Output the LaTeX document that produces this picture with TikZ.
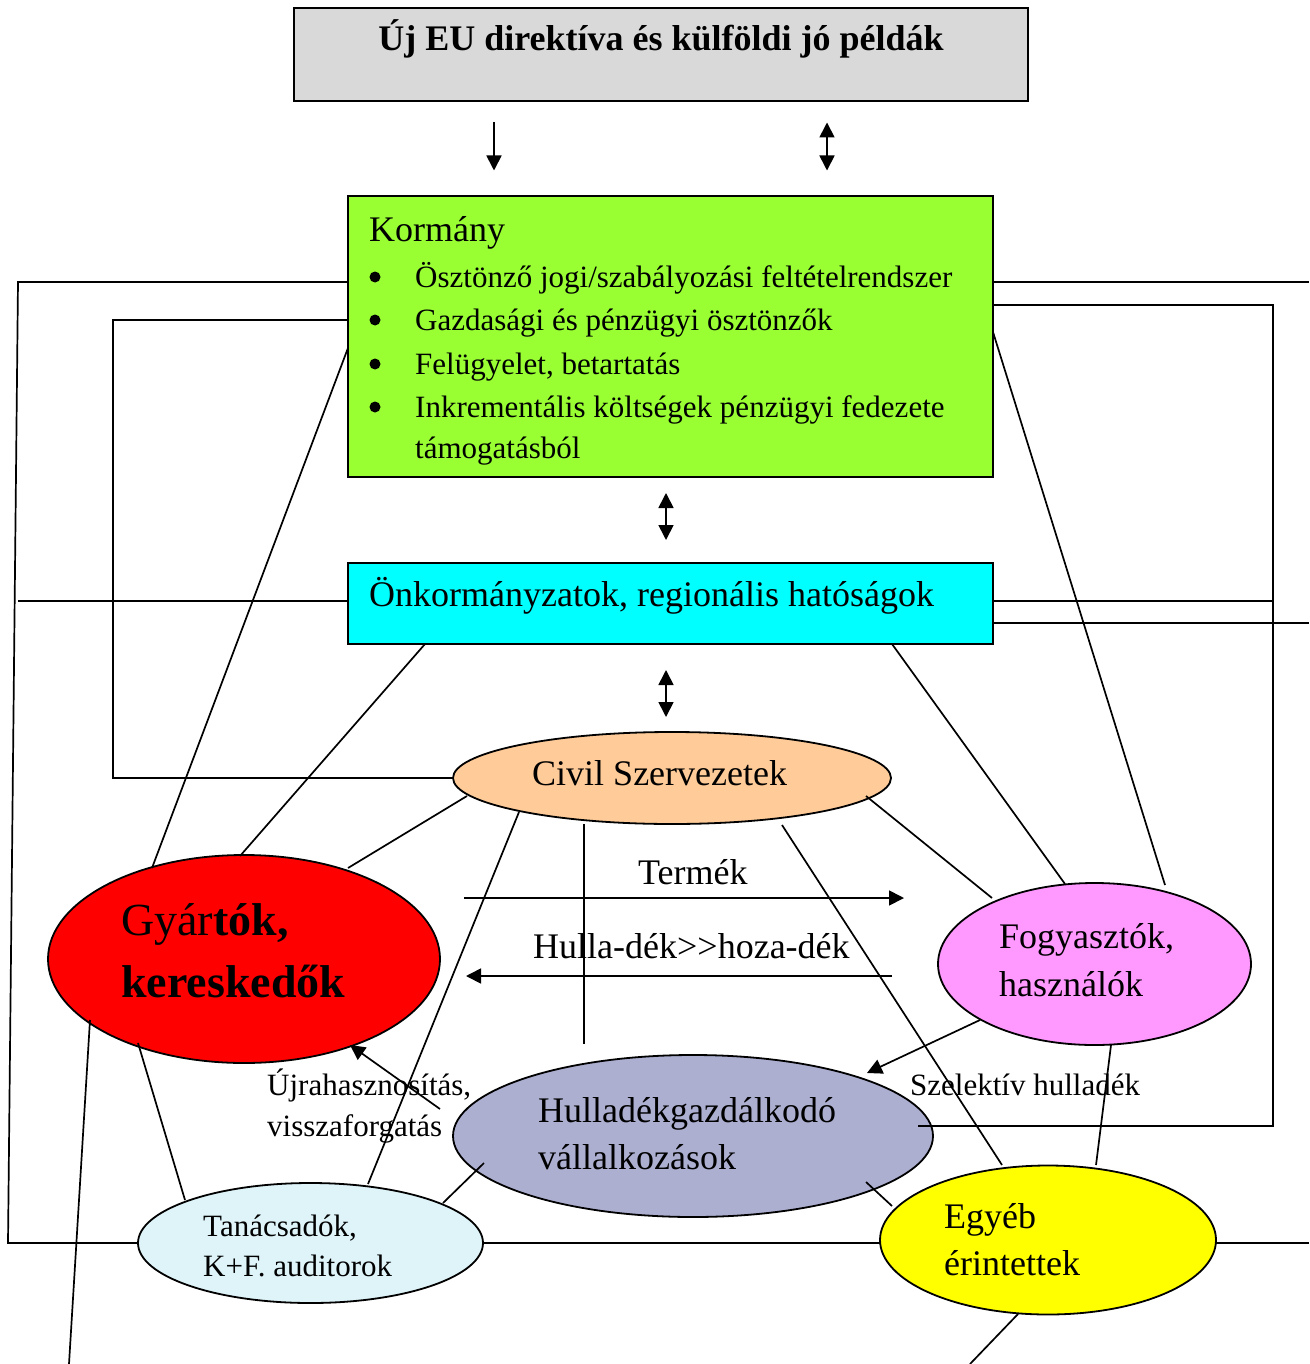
\documentclass[tikz,border=0pt]{standalone}
\usepackage{fontspec}
\setmainfont{Liberation Serif}
\usetikzlibrary{shapes.geometric,arrows.meta,calc}
\definecolor{cgray}{RGB}{217,217,217}
\definecolor{cgreen}{RGB}{153,255,51}
\definecolor{ccyan}{RGB}{0,255,255}
\definecolor{corange}{RGB}{255,204,153}
\definecolor{cred}{RGB}{255,0,0}
\definecolor{cpink}{RGB}{255,153,255}
\definecolor{clav}{RGB}{172,175,208}
\definecolor{clight}{RGB}{222,244,249}
\definecolor{cyel}{RGB}{255,255,0}
\newcommand\fsz[1]{\fontsize{#1pt}{#1pt}\selectfont}
\begin{document}
\begin{tikzpicture}[x=1pt,y=-1pt,
  ln/.style={line width=1.7pt},
  arr/.style={ln,-{Triangle[length=15pt,width=15pt]}},
  darr/.style={ln,{Triangle[length=15pt,width=15pt]}-{Triangle[length=15pt,width=15pt]}},
  box/.style={draw,line width=1.8pt,inner sep=0pt,outer sep=0pt},
  ell/.style={draw,ellipse,line width=1.8pt,inner sep=0pt,outer sep=0pt},
  tbig/.style={anchor=base west,inner sep=0pt,font=\fsz{36}},
  tsm/.style={anchor=base west,inner sep=0pt,font=\fsz{31}},
  bul/.style={circle,fill=black,inner sep=0pt,minimum size=11pt}]
\useasboundingbox (0,0) rectangle (1309,1364);
\fill[white] (0,0) rectangle (1309,1364);

% boxes
\node[box,fill=cgray,minimum width=734pt,minimum height=93pt] (eu) at (661,54.5) {};
\node[box,fill=cgreen,minimum width=645pt,minimum height=281pt] (kor) at (670.5,336.5) {};
\node[box,fill=ccyan,minimum width=645pt,minimum height=81pt] (onk) at (670.5,603.5) {};

% ellipses
\node[ell,fill=corange,minimum width=438pt,minimum height=92pt] (civ) at (672,778) {};
\node[ell,fill=cred,minimum width=392pt,minimum height=208pt] (gyr) at (244,959) {};
\node[ell,fill=cpink,minimum width=313pt,minimum height=162pt] (fog) at (1094.5,964) {};
\node[ell,fill=clav,minimum width=480pt,minimum height=162pt] (hul) at (693,1136) {};
\node[ell,fill=clight,minimum width=345pt,minimum height=120pt] (tan) at (310.5,1243) {};
\node[ell,fill=cyel,minimum width=336pt,minimum height=149pt] (egy) at (1048,1240) {};

% named coordinates
\coordinate (LL1) at (18,282);
\coordinate (LL2) at (8,1243);
\coordinate (LM) at (18,601);
\coordinate (IL1) at (113,320);
\coordinate (IL2) at (113,778);
\coordinate (RR1) at (1309,282);
\coordinate (RR2) at (1309,623);
\coordinate (RR3) at (1309,1243);
\coordinate (IR1) at (1273,305);
\coordinate (IR2) at (1273,1126);
\coordinate (IR3) at (1273,601);
\coordinate (V1) at (584,1044);
\coordinate (B1) at (69,1364);
\coordinate (B2) at (970,1364);
\coordinate (TA) at (464,898);
\coordinate (TB) at (904,898);
\coordinate (HA) at (892,976);
\coordinate (HB) at (466,976);
\coordinate (A1a) at (494,122);
\coordinate (A1b) at (494,170.5);
\coordinate (A2a) at (827,122.5);
\coordinate (A2b) at (827,170.5);
\coordinate (A3a) at (666,493);
\coordinate (A3b) at (666,540);
\coordinate (A4a) at (666,670);
\coordinate (A4b) at (666,717);

% frame lines
\draw[ln] ($(kor.north west)+(0,86)$) -- (LL1) -- (LL2) -- (tan.west);
\draw[ln] (tan.east) -- ($(egy.west)+(0,3)$);
\draw[ln] ($(egy.east)+(0,3)$) -- (RR3);
\draw[ln] ($(kor.north east)+(0,86)$) -- (RR1);
\draw[ln] ($(kor.north west)+(0,124)$) -- (IL1) -- (IL2) -- (civ.west);
\draw[ln] ($(onk.west)+(0,-2.5)$) -- (LM);
\draw[ln] ($(kor.north east)+(0,109)$) -- (IR1) -- (IR2) -- ($(hul)+(225,-10)$);
\draw[ln] ($(onk.east)+(0,-2.5)$) -- (IR3);
\draw[ln] ($(onk.east)+(0,19.5)$) -- (RR2);

% diagonal links
\draw[ln] ($(kor.north west)+(0,152)$) -- ($(gyr)+(-92,-91)$);
\draw[ln] ($(kor.north east)+(0,136)$) -- ($(fog)+(70.5,-79)$);
\draw[ln] ($(onk.south west)+(77,0)$) -- ($(gyr)+(-4,-103)$);
\draw[ln] ($(onk.south east)+(-101,0)$) -- ($(fog)+(-29.5,-80)$);
\draw[ln] ($(civ)+(-205,18)$) -- ($(gyr)+(104,-91)$);
\draw[ln] ($(civ)+(-153,34)$) -- ($(tan)+(57.5,-59)$);
\draw[ln] (civ.south -| V1) -- (V1);
\draw[ln] ($(civ)+(110,47)$) -- ($(egy)+(-46,-75)$);
\draw[ln] ($(civ)+(194,18)$) -- ($(fog)+(-102.5,-66)$);
\draw[ln] ($(gyr)+(-106,84)$) -- ($(tan)+(-125.5,-43)$);
\draw[ln] ($(gyr)+(-154,61)$) -- (B1);
\draw[ln] ($(tan)+(132.5,-40)$) -- ($(hul)+(-209,27)$);
\draw[ln] ($(hul)+(173,46)$) -- ($(egy)+(-156,-34)$);
\draw[ln] ($(fog)+(16.5,81)$) -- ($(egy)+(48,-75)$);
\draw[ln] ($(egy)+(-30,74)$) -- (B2);

% arrows
\draw[arr] (A1a) -- (A1b);
\draw[darr] (A2a) -- (A2b);
\draw[darr] (A3a) -- (A3b);
\draw[darr] (A4a) -- (A4b);
\draw[arr] (TA) -- (TB);
\draw[arr] (HA) -- (HB);
\draw[arr] ($(fog)+(-114.5,56)$) -- ($(hul)+(174,-63)$);
\draw[arr] ($(hul)+(-253,-27)$) -- ($(gyr)+(106,86)$);

% texts
\node[anchor=base,inner sep=0pt,font=\fsz{36}\bfseries] (euT) at (661,51) {Új EU direktíva és külföldi jó példák};
\node[tbig] (korT) at (369,241) {Kormány};
\node[bul] (b1) at (375,277) {};
\node[bul] (b2) at (375,320) {};
\node[bul] (b3) at (375,364) {};
\node[bul] (b4) at (375,407) {};
\node[tsm] (k1) at (415,287) {Ösztönző jogi/szabályozási feltételrendszer};
\node[tsm] (k2) at (415,330) {Gazdasági és pénzügyi ösztönzők};
\node[tsm] (k3) at (415,374) {Felügyelet, betartatás};
\node[tsm] (k4) at (415,417) {Inkrementális költségek pénzügyi fedezete};
\node[tsm] (k5) at (415,458) {támogatásból};
\node[tbig] (onkT) at (369,606) {Önkormányzatok, regionális hatóságok};
\node[tbig] (civT) at (532,785) {Civil Szervezetek};
\node[anchor=base west,inner sep=0pt,font=\fsz{46}] (gyT1) at (121,935) {Gyár\textbf{tók,}};
\node[anchor=base west,inner sep=0pt,font=\fsz{46}\bfseries] (gyT2) at (121,997) {kereskedők};
\node[tbig] (terT) at (638,884) {Termék};
\node[tbig] (hdT) at (533,958) {Hulla-dék>{}>hoza-dék};
\node[tbig] (foT1) at (999,948) {Fogyasztók,};
\node[tbig] (foT2) at (999,996) {használók};
\node[tsm] (ujT1) at (267,1095) {Újrahasznosítás,};
\node[tsm] (ujT2) at (267,1136) {visszaforgatás};
\node[tbig] (huT1) at (538,1122) {Hulladékgazdálkodó};
\node[tbig] (huT2) at (538,1169) {vállalkozások};
\node[tsm] (szT) at (910,1095) {Szelektív hulladék};
\node[tsm] (taT1) at (203,1236) {Tanácsadók,};
\node[tsm] (taT2) at (203,1276) {K+F. auditorok};
\node[tbig] (egT1) at (944,1228) {Egyéb};
\node[tbig] (egT2) at (944,1275) {érintettek};
\end{tikzpicture}
\end{document}
